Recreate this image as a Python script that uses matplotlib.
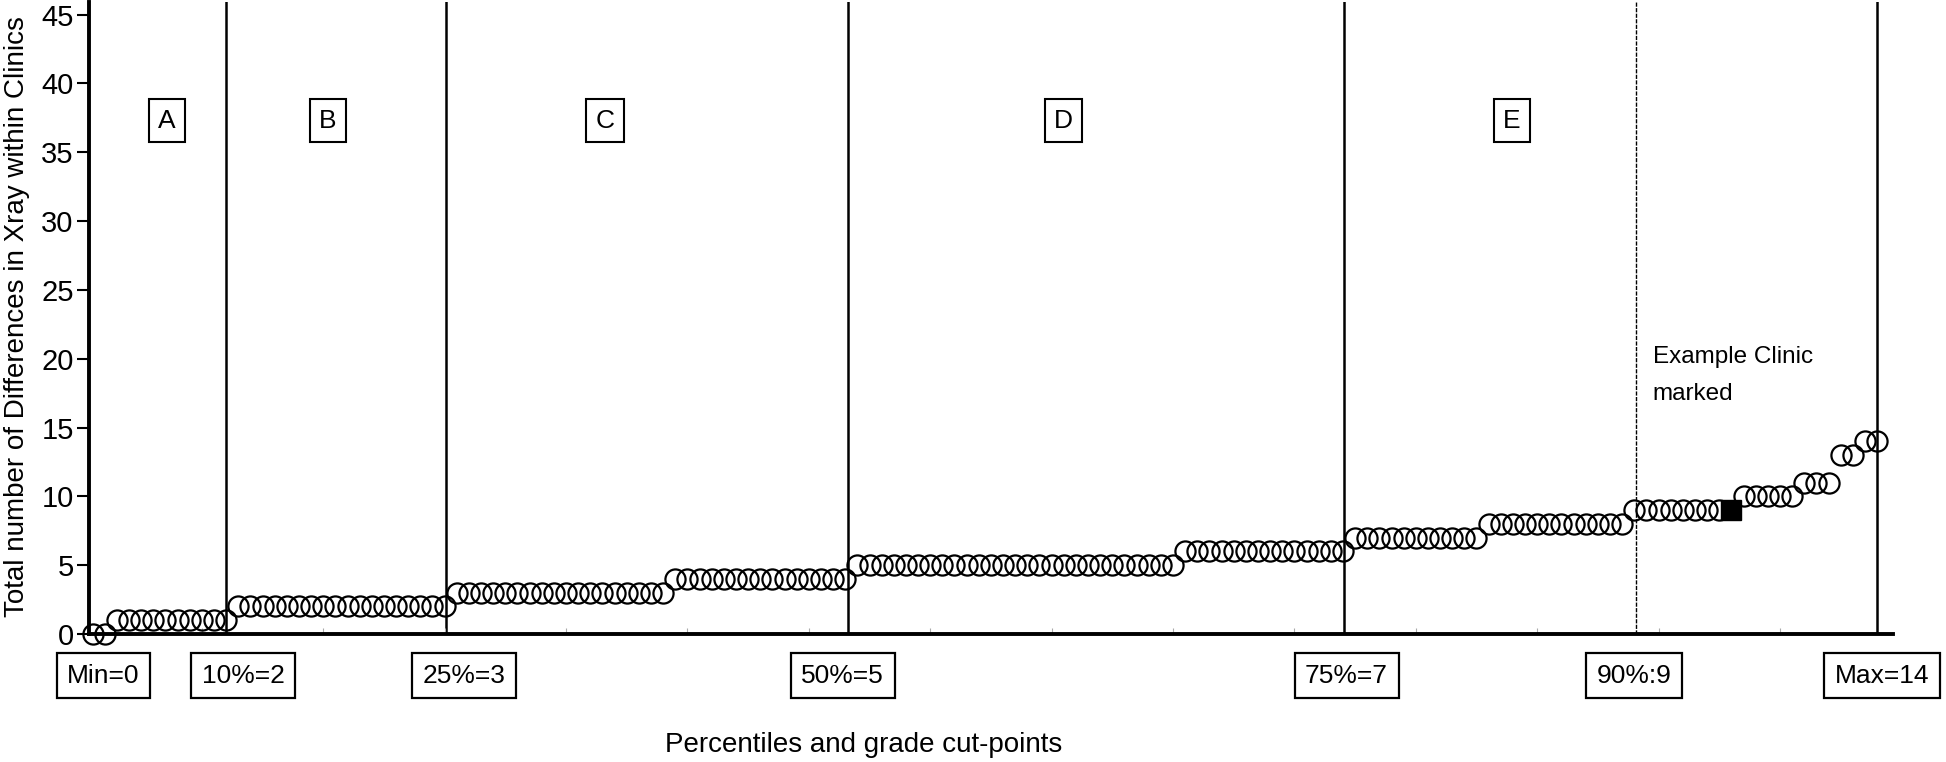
import matplotlib
matplotlib.use('Agg')
import matplotlib.pyplot as plt

plt.rcParams['font.family'] = ['Liberation Sans', 'DejaVu Sans']

# Sorted clinic values: (level, number of clinics at that level)
levels = [0, 1, 2, 3, 4, 5, 6, 7, 8, 9, 9, 10, 11, 13, 14]
counts = [2, 10, 18, 18, 15, 27, 14, 11, 12, 8, 1, 5, 3, 2, 2]
example_pos = 10  # index in levels/counts of the example clinic (square)

# Percentile cut-point lines (x position in clinic rank) and their labels
cut_x = [1, 12.0, 30.1, 63.2, 104.1, 128.1, 148]
cut_labels = ['Min=0', '10%=2', '25%=3', '50%=5', '75%=7', '90%:9', 'Max=14']
label_x = [1.9, 13.4, 31.6, 62.8, 104.3, 128.0, 148.4]

grades = ['A', 'B', 'C', 'D', 'E']
grade_x = [7.1, 20.4, 43.2, 81.0, 117.9]

# Build the sorted series
values = []
kinds = []
for i, (lv, n) in enumerate(zip(levels, counts)):
    values += [lv] * n
    kinds += ['square' if i == example_pos else 'circle'] * n
ranks = list(range(1, len(values) + 1))

fig = plt.figure(figsize=(19.46, 7.62), dpi=100)
ax = fig.add_axes([0.0457, 0.168, 0.927, 0.829])

cx = [r for r, k in zip(ranks, kinds) if k == 'circle']
cy = [v for v, k in zip(values, kinds) if k == 'circle']
sx = [r for r, k in zip(ranks, kinds) if k == 'square']
sy = [v for v, k in zip(values, kinds) if k == 'square']
ax.plot(cx, cy, 'o', mfc='none', mec='black', ms=14.5, mew=1.6, ls='none',
        clip_on=False, zorder=3)
ax.plot(sx, sy, 's', color='black', ms=14, ls='none', clip_on=False, zorder=4)

# vertical cut-point lines (skip Min)
for i, x in enumerate(cut_x[1:], start=1):
    if cut_labels[i].startswith('90'):
        ax.axvline(x, color='black', lw=1.0, ls=(0, (3, 1)), zorder=1)
    else:
        ax.axvline(x, color='black', lw=1.8, zorder=1)

# grade boxes
for g, x in zip(grades, grade_x):
    ax.text(x, 37.3, g, ha='center', va='center', fontsize=19,
            bbox=dict(boxstyle='square,pad=0.35', fc='white', ec='black', lw=1.5))

# percentile label boxes below the axis
for lab, x in zip(cut_labels, label_x):
    ax.text(x, -0.066, lab, transform=ax.get_xaxis_transform(), ha='center',
            va='center', fontsize=19, clip_on=False,
            bbox=dict(boxstyle='square,pad=0.4', fc='white', ec='black', lw=1.6))

ax.text(129.5, 20.9, 'Example Clinic\nmarked', ha='left', va='top', fontsize=17.5,
        linespacing=1.85)

ax.text(64.5, -0.176, 'Percentiles and grade cut-points',
        transform=ax.get_xaxis_transform(), ha='center', va='center', fontsize=20)
fig.text(0.0085, 0.585, 'Total number of Differences in Xray within Clinics',
         rotation=90, ha='center', va='center', fontsize=20)

ax.set_xlim(0.7, 149.3)
ax.set_ylim(0, 45.9)
ax.set_yticks(range(0, 46, 5))
ax.set_xticks(range(10, 150, 10))
ax.set_xticklabels([])
ax.tick_params(axis='y', direction='out', length=9, width=1.5, labelsize=21, pad=2)
ax.tick_params(axis='x', direction='in', length=4, width=0.8, color='#aaaaaa')
for s in ['top', 'right']:
    ax.spines[s].set_visible(False)
ax.spines['left'].set_linewidth(2.8)
ax.spines['bottom'].set_linewidth(2.8)

fig.savefig('out.png', dpi=100)
